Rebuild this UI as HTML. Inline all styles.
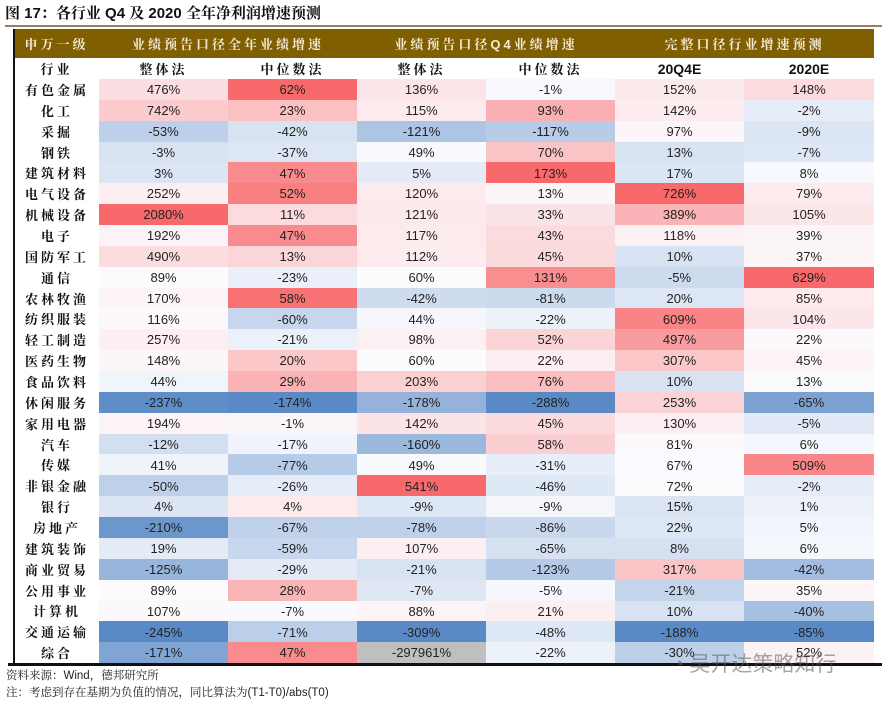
<!DOCTYPE html>
<html><head><meta charset="utf-8"><style>
body{margin:0;width:890px;height:703px;background:#fff;position:relative;overflow:hidden;font-family:"Liberation Sans","Noto Sans CJK SC",sans-serif}
.a{position:absolute;box-sizing:border-box}
.t{font-family:"Liberation Sans","Noto Serif CJK SC",serif;font-weight:bold}
.c{display:flex;align-items:center;justify-content:center;font-size:13px;color:#222}
.lab{font-family:"Noto Serif CJK SC",serif;font-weight:bold;font-size:13px;letter-spacing:3px;color:#111}
.hd{color:#f3ead6;font-family:"Liberation Sans","Noto Serif CJK SC",serif;font-weight:bold;font-size:13px;letter-spacing:3px}
</style></head><body>
<div class="a t" style="left:5px;top:2px;font-size:15px;color:#111">图 17：各行业 Q4 及 2020 全年净利润增速预测</div>
<div class="a" style="left:5px;top:25px;width:877px;height:2px;background:#9b7b62"></div>
<div class="a" style="left:14px;top:29px;width:860px;height:29px;background:#7f5f00"></div>
<div class="a c hd" style="left:14px;top:29px;width:85px;height:29px">申万一级</div>
<div class="a c hd" style="left:99px;top:29px;width:258px;height:29px">业绩预告口径全年业绩增速</div>
<div class="a c hd" style="left:357px;top:29px;width:258px;height:29px">业绩预告口径Q4业绩增速</div>
<div class="a c hd" style="left:615px;top:29px;width:259px;height:29px">完整口径行业增速预测</div>
<div class="a" style="left:13px;top:29px;width:2px;height:636px;background:#111"></div>
<div id="tbl"></div>
<div class="a" style="left:8px;top:663px;width:874px;height:3px;background:#111"></div>
<div class="a" style="left:6px;top:667px;font-size:11.5px;color:#222;font-family:'Liberation Sans','Noto Serif CJK SC',serif">资料来源：Wind，德邦研究所</div>
<div class="a" style="left:6px;top:684px;font-size:11.5px;color:#222;font-family:'Liberation Sans','Noto Serif CJK SC',serif">注：考虑到存在基期为负值的情况，同比算法为(T1-T0)/abs(T0)</div>
<div class="a" style="left:672px;top:648px;font-size:21px;color:rgba(90,90,90,0.55);font-family:'Noto Sans CJK SC',sans-serif">◔ 吴开达策略知行</div>
<script>
const sectors=["有色金属","化工","采掘","钢铁","建筑材料","电气设备","机械设备","电子","国防军工","通信","农林牧渔","纺织服装","轻工制造","医药生物","食品饮料","休闲服务","家用电器","汽车","传媒","非银金融","银行","房地产","建筑装饰","商业贸易","公用事业","计算机","交通运输","综合"];
const colHeaders=["整体法","中位数法","整体法","中位数法","20Q4E","2020E"];
const fyWhole=[476,742,-53,-3,3,252,2080,192,490,89,170,116,257,148,44,-237,194,-12,41,-50,4,-210,19,-125,89,107,-245,-171];
const fyMedian=[62,23,-42,-37,47,52,11,47,13,-23,58,-60,-21,20,29,-174,-1,-17,-77,-26,4,-67,-59,-29,28,-7,-71,47];
const q4Whole=[136,115,-121,49,5,120,121,117,112,60,-42,44,98,60,203,-178,142,-160,49,541,-9,-78,107,-21,-7,88,-309,-297961];
const q4Median=[-1,93,-117,70,173,13,33,43,45,131,-81,-22,52,22,76,-288,45,58,-31,-46,-9,-86,-65,-123,-5,21,-48,-22];
const q4E=[152,142,97,13,17,726,389,118,10,-5,20,609,497,307,10,253,130,81,67,72,15,22,8,317,-21,10,-188,-30];
const y2020E=[148,-2,-9,-7,8,79,105,39,37,629,85,104,22,45,13,-65,-5,6,509,-2,1,5,6,-42,35,-40,-85,52];
const cols=[fyWhole,fyMedian,q4Whole,q4Median,q4E,y2020E];
const X0=99,CW=[129,129,129,129,129,130],TOP=79,RH=20.86;
const tbl=document.getElementById('tbl');
function mix(a,b,t){return 'rgb('+a.map((v,i)=>Math.round(v+(b[i]-v)*t)).join(',')+')';}
const BLUE=[90,138,198],WHITE=[252,252,255],RED=[248,105,107];
function xOf(c){let x=X0;for(let i=0;i<c;i++)x+=CW[i];return x;}
let h=document.createElement('div');h.className='a c lab';


h.style.cssText='left:14px;top:58px;width:85px;height:21px';h.textContent='行业';tbl.appendChild(h);
colHeaders.forEach((t,c)=>{const d=document.createElement('div');d.className='a c lab';


d.style.cssText=`left:${xOf(c)}px;top:58px;width:${CW[c]}px;height:21px;`+(c>=4?'font-family:Liberation Sans,sans-serif;letter-spacing:0;font-size:14px':'');
d.textContent=t;tbl.appendChild(d);});
cols.forEach((arr,c)=>{
  const valid=arr.filter(v=>Math.abs(v)<100000);
  const s=[...valid].sort((a,b)=>a-b);const mn=s[0],mx=s[s.length-1];
  const n=s.length;const med=n%2?s[(n-1)/2]:(s[n/2-1]+s[n/2])/2;
  arr.forEach((v,r)=>{
    let bg;
    if(Math.abs(v)>=100000)bg='#bfbfbf';
    else if(v<=med)bg=mix(WHITE,BLUE,(med-v)/(med-mn||1));
    else bg=mix(WHITE,RED,(v-med)/(mx-med||1));
    const d=document.createElement('div');d.className='a c';
    
    
    d.style.cssText=`left:${xOf(c)}px;top:${TOP+r*RH}px;width:${CW[c]}px;height:${RH+0.5}px;background:${bg}`;
    d.textContent=v+'%';tbl.appendChild(d);
  });
});
sectors.forEach((s,r)=>{const d=document.createElement('div');d.className='a c lab';


d.style.cssText=`left:15px;top:${TOP+r*RH}px;width:84px;height:${RH}px`;d.textContent=s;tbl.appendChild(d);});
</script>
</body></html>
